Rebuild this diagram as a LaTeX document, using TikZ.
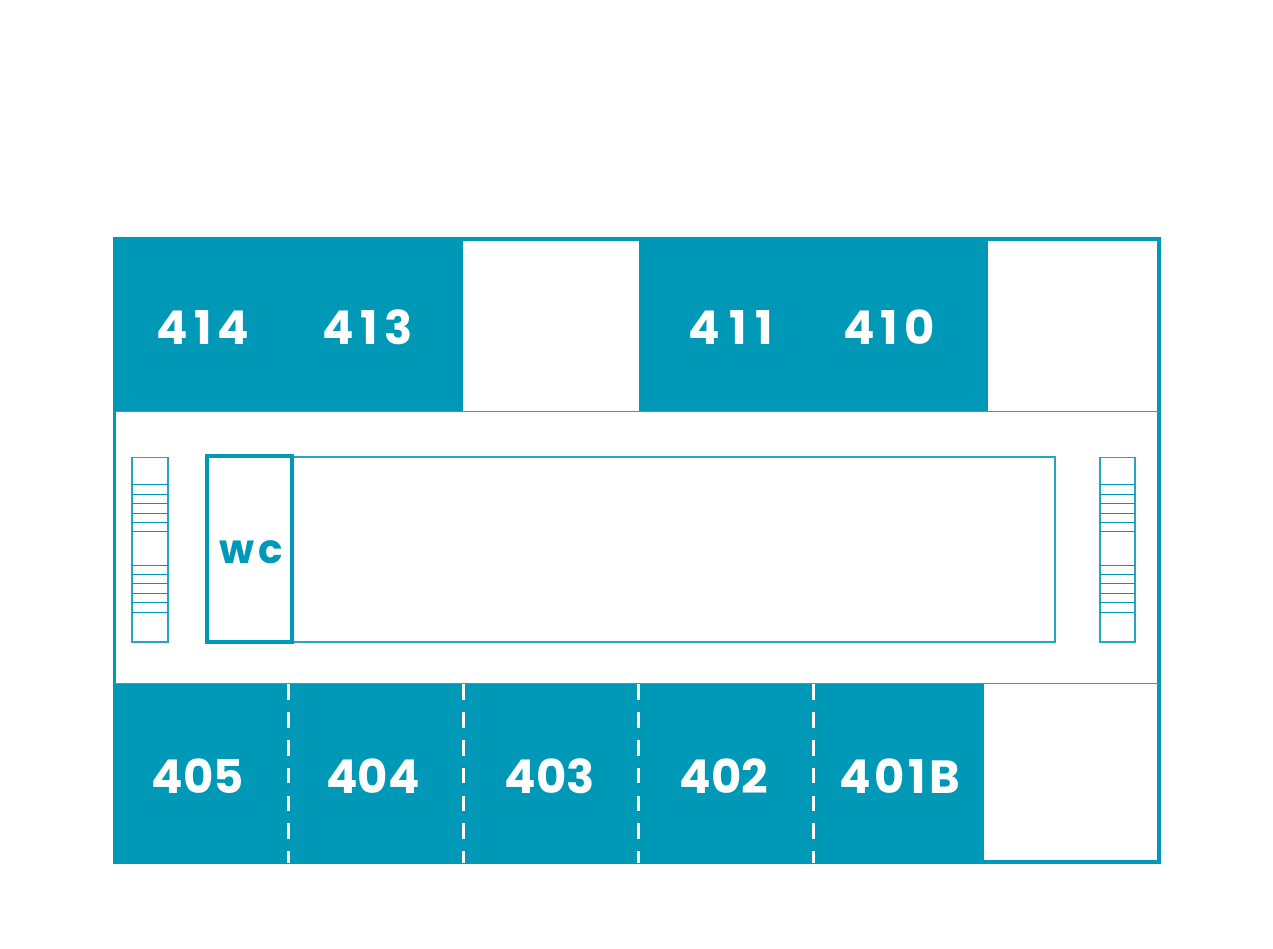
\documentclass[tikz,border=0pt]{standalone}
\usepackage{fontspec}
\setmainfont{Poppins}[BoldFont={Poppins Bold}]
\newfontfamily\roomfont{Poppins Bold}
\definecolor{floorblue}{RGB}{0,152,183}
\definecolor{linewall}{RGB}{40,165,190}

\begin{document}
\begin{tikzpicture}[x=0.02cm,y=-0.02cm,
    roomlabel/.style={text=white, font=\roomfont\fontsize{26.5}{26.5}\selectfont, inner sep=0pt, anchor=center},
    thinwall/.style={draw=linewall, line width=0.65pt},
    stairline/.style={draw=floorblue, line width=0.55pt},
    thickwall/.style={draw=floorblue, line width=1.75pt}]
    \useasboundingbox (0,0) rectangle (1273,948);

    % Occupied rooms
    \foreach \xa/\ya/\xb/\yb in {114/238/463/411, 639/238/988/411, 114/684/984/862} {
        \fill[floorblue] (\xa,\ya) rectangle (\xb,\yb);
    }

    % Outer wall and corridor
    \draw[thickwall] (114.5,239) rectangle (1159,862);
    \draw[thinwall] (114,411.5) -- (1159,411.5);
    \draw[thinwall] (114,683.5) -- (1159,683.5);

    % Partitions between the lower rooms
    \foreach \x in {288.5,463.5,638.5,813.5} {
        \draw[white, line width=1.5pt, dash pattern=on 9pt off 6.87pt] (\x,684) -- (\x,863);
    }

    % Core
    \draw[thinwall] (207,457) rectangle (1055,642);
    \draw[thickwall, line width=1.9pt, fill=white] (207,456) rectangle (292,642);

    % Stairs
    \foreach \xa/\xb in {132/168, 1100/1135} {
        \draw[thinwall] (\xa,457.5) rectangle (\xb,642);
        \foreach \y in {484.5,494,503.5,513,522.5,531.7,565,574,583.7,593,602.7,612} {
            \draw[stairline] (\xa,\y) -- (\xb,\y);
        }
    }

    % Room numbers
    \foreach \name/\x/\y/\spacing in {414/203/327/12.5, 413/368/327/14, 411/731/327/19, 410/889/327/12.5,
                             405/198/776/0, 404/373/776/0, 403/550/776/0, 402/724/776/0, 401B/900/776/8} {
        \node[roomlabel] (room\name) at (\x,\y) {\addfontfeature{LetterSpace=\spacing}\name};
    }
    \node[text=floorblue, font=\roomfont\fontsize{23}{23}\selectfont, inner sep=0pt] (wc) at (251,552.5) {\addfontfeature{LetterSpace=11}wc};
\end{tikzpicture}
\end{document}
